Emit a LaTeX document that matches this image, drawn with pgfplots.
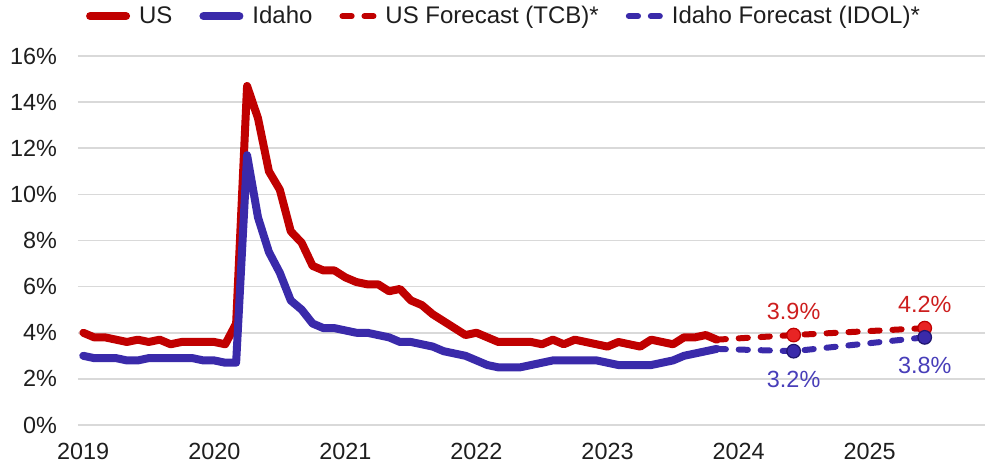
\documentclass[border=0pt]{standalone}
\usepackage{fontspec}
\setmainfont{Liberation Sans}
\usepackage{pgfplots}
\usepackage{pgfplotstable}
\pgfplotsset{compat=1.18}
\definecolor{usred}{RGB}{192,0,0}
\definecolor{usmark}{RGB}{232,36,36}
\definecolor{uslab}{RGB}{205,30,30}
\definecolor{idblue}{RGB}{58,42,170}
\definecolor{idmarkedge}{RGB}{30,20,110}
\definecolor{idlab}{RGB}{72,62,185}
\definecolor{gridgray}{RGB}{217,217,217}
\definecolor{txt}{RGB}{30,30,30}

\pgfplotsset{
  solidleg/.style={legend image code/.code={\draw[##1] (1pt,0pt) -- (19pt,0pt);}},
  dashleg/.style={legend image code/.code={\draw[##1] (1.5pt,0pt) -- (17pt,0pt);}},
}

% Monthly data, Jan 2019 - Nov 2023
\pgfplotstableread{
y
4.0
3.8
3.8
3.7
3.6
3.7
3.6
3.7
3.5
3.6
3.6
3.6
3.6
3.5
4.4
14.7
13.3
11.0
10.2
8.4
7.9
6.9
6.7
6.7
6.4
6.2
6.1
6.1
5.8
5.9
5.4
5.2
4.8
4.5
4.2
3.9
4.0
3.8
3.6
3.6
3.6
3.6
3.5
3.7
3.5
3.7
3.6
3.5
3.4
3.6
3.5
3.4
3.7
3.6
3.5
3.8
3.8
3.9
3.7
}\usdata

\pgfplotstableread{
y
3.0
2.9
2.9
2.9
2.8
2.8
2.9
2.9
2.9
2.9
2.9
2.8
2.8
2.7
2.7
11.7
9.0
7.5
6.6
5.4
5.0
4.4
4.2
4.2
4.1
4.0
4.0
3.9
3.8
3.6
3.6
3.5
3.4
3.2
3.1
3.0
2.8
2.6
2.5
2.5
2.5
2.6
2.7
2.8
2.8
2.8
2.8
2.8
2.7
2.6
2.6
2.6
2.6
2.7
2.8
3.0
3.1
3.2
3.3
}\iddata

\begin{document}
\begin{tikzpicture}
\useasboundingbox (-39pt,-21pt) rectangle (454pt,212.5pt);
\begin{axis}[
  scale only axis, width=453.5pt, height=184.5pt,
  at={(0,0)}, anchor=south west,
  xmin=2018.96, xmax=2025.88, ymin=0, ymax=16,
  ytick={0,2,...,16},
  xtick={2019,2020,2021,2022,2023,2024,2025},
  xticklabels={2019,2020,2021,2022,2023,2024,2025},
  ymajorgrids, grid style={gridgray, line width=0.8pt},
  axis line style={draw=none}, major tick length=0pt,
  tick label style={font=\fontsize{11.7}{13}\selectfont, text=txt},
  /pgf/number format/assume math mode=true,
  yticklabel={\pgfmathprintnumber{\tick}\%},
  yticklabel style={xshift=-7pt},
  xticklabel style={yshift=-5.6pt},
  clip=false,
  legend columns=4,
  legend style={at={(axis description cs:0.4708,1.108)}, anchor=center,
    draw=none, fill=none, font=\fontsize{12}{14}\selectfont, text=txt,
    /tikz/every odd column/.append style={column sep=2.5pt},
    /tikz/every even column/.append style={column sep=11.5pt}},
]
\addplot[usred, line width=4pt, line join=round, line cap=round, solidleg]
  table[x expr=2019+\coordindex/12, y=y] {\usdata};
\addlegendentry{US}
\addplot[idblue, line width=4pt, line join=round, line cap=round, solidleg]
  table[x expr=2019+\coordindex/12, y=y] {\iddata};
\addlegendentry{Idaho}
\addplot[usred, line width=3pt, line cap=round, dash pattern=on 4.6pt off 6.4pt, dashleg]
  coordinates {(2023.833,3.7) (2024.42,3.9) (2025.42,4.2)};
\addlegendentry{US Forecast (TCB)*}
\addplot[idblue, line width=3pt, line cap=round, dash pattern=on 4.6pt off 6.4pt, dashleg]
  coordinates {(2023.833,3.3) (2024.42,3.2) (2025.42,3.8)};
\addlegendentry{Idaho Forecast (IDOL)*}
\addplot[forget plot, only marks, mark=*, mark size=3.4pt,
  mark options={fill=usmark, draw=usred, line width=0.6pt},
  nodes near coords={\pgfmathprintnumber[fixed,fixed zerofill,precision=1]{\pgfplotspointmeta}\%},
  nodes near coords style={text=uslab, font=\fontsize{11.7}{13}\selectfont, anchor=center, yshift=12pt}]
  coordinates {(2024.42,3.9) (2025.42,4.2)};
\addplot[forget plot, only marks, mark=*, mark size=3.4pt,
  mark options={fill=idblue, draw=idmarkedge, line width=0.6pt},
  nodes near coords={\pgfmathprintnumber[fixed,fixed zerofill,precision=1]{\pgfplotspointmeta}\%},
  nodes near coords style={text=idlab, font=\fontsize{11.7}{13}\selectfont, anchor=center, yshift=-14.2pt}]
  coordinates {(2024.42,3.2) (2025.42,3.8)};
\end{axis}
\end{tikzpicture}
\end{document}
